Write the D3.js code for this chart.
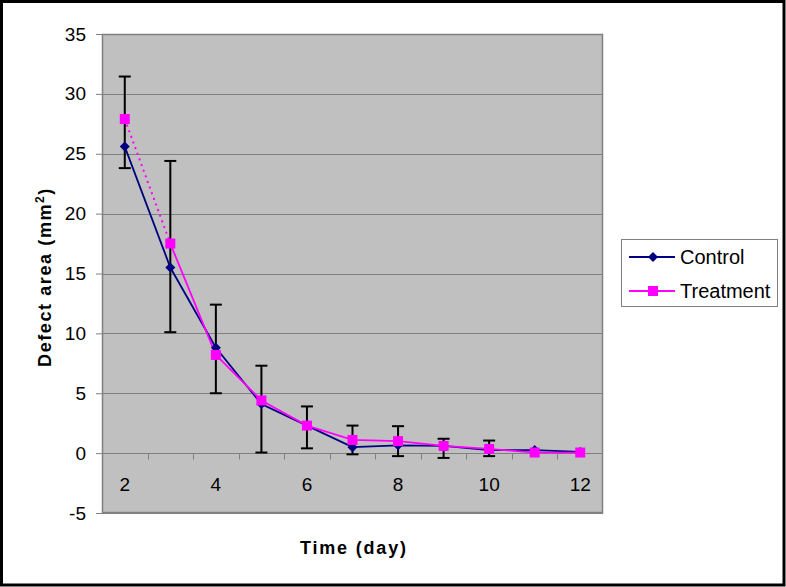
<!DOCTYPE html>
<html>
<head>
<meta charset="utf-8">
<script src="https://cdn.jsdelivr.net/npm/d3@7"></script>
<style>
  body { margin: 0; background: #fff; }
  svg text { font-family: Arial, "Liberation Sans", sans-serif; fill: #000; }
</style>
</head>
<body>
<svg id="chart" width="786" height="587"></svg>
<script>
// data
const days = [2, 3, 4, 5, 6, 7, 8, 9, 10, 11, 12];
const control = [25.6, 15.5, 8.8, 4.1, 2.3, 0.5, 0.65, 0.6, 0.25, 0.25, 0.1];
const treatment = [27.9, 17.5, 8.2, 4.4, 2.3, 1.1, 1.0, 0.6, 0.35, 0.05, 0.05];
const errTop = [31.45, 24.4, 12.4, 7.3, 3.9, 2.3, 2.25, 1.2, 1.05, null, null];
const errBottom = [23.8, 10.1, 5.0, 0.05, 0.4, -0.1, -0.25, -0.4, -0.25, null, null];
const yTicks = [-5, 0, 5, 10, 15, 20, 25, 30, 35];
const xLabels = [2, 4, 6, 8, 10, 12];

const svg = d3.select('#chart');
const plot = { left: 102, right: 603, top: 34, bottom: 513 };

const x = d3.scaleBand().domain(days).range([plot.left, plot.right]);
const y = d3.scaleLinear().domain([-5, 35]).range([plot.bottom, plot.top]);
const cx = d => x(d) + x.bandwidth() / 2;

// outer frame
svg.append('rect')
    .attr('x', 1.5).attr('y', 1.5).attr('width', 782.5).attr('height', 583.5)
    .attr('fill', '#fff').attr('stroke', '#000').attr('stroke-width', 3);

// plot area
svg.append('rect')
    .attr('x', plot.left).attr('y', plot.top)
    .attr('width', plot.right - plot.left).attr('height', plot.bottom - plot.top)
    .attr('fill', '#c0c0c0');

// gridlines
svg.append('g').selectAll('line')
    .data(yTicks)
    .enter().append('line')
    .attr('x1', plot.left).attr('x2', plot.right)
    .attr('y1', d => Math.round(y(d)) + 0.5).attr('y2', d => Math.round(y(d)) + 0.5)
    .attr('stroke', '#808080').attr('stroke-width', 1);

svg.append('rect')
    .attr('x', plot.left + 0.5).attr('y', plot.top + 0.5)
    .attr('width', plot.right - plot.left - 1).attr('height', plot.bottom - plot.top - 1)
    .attr('fill', 'none').attr('stroke', '#808080').attr('stroke-width', 1.5);

// y axis
const yAxis = d3.axisLeft(y).tickValues(yTicks).tickSize(6).tickPadding(10)
    .tickFormat(d => String(d));
const gy = svg.append('g')
    .attr('transform', `translate(${plot.left},0)`)
    .call(yAxis);
gy.select('.domain').attr('stroke', '#808080');
gy.selectAll('.tick line').attr('stroke', '#808080');
gy.selectAll('.tick text').style('font-size', '19px').attr('fill', '#000');

// category axis crossing at zero
const y0 = Math.round(y(0)) + 0.5;
svg.append('line')
    .attr('x1', plot.left).attr('x2', plot.right)
    .attr('y1', y0).attr('y2', y0)
    .attr('stroke', '#808080');
svg.append('g').selectAll('line')
    .data(days.slice(1))
    .enter().append('line')
    .attr('x1', d => Math.round(x(d)) + 0.5).attr('x2', d => Math.round(x(d)) + 0.5)
    .attr('y1', y0).attr('y2', y0 + 6)
    .attr('stroke', '#808080');
svg.append('g').selectAll('text')
    .data(xLabels)
    .enter().append('text')
    .attr('x', d => cx(d))
    .attr('y', 491)
    .attr('text-anchor', 'middle')
    .style('font-size', '19px')
    .text(d => d);

// error bars
const errData = days.map((d, i) => ({ d, top: errTop[i], bottom: errBottom[i] }))
    .filter(e => e.top !== null);
const eb = svg.append('g').attr('stroke', '#000').attr('stroke-width', 2);
eb.selectAll('.stem')
    .data(errData)
    .enter().append('line')
    .attr('x1', e => cx(e.d)).attr('x2', e => cx(e.d))
    .attr('y1', e => y(e.top)).attr('y2', e => y(e.bottom));
eb.selectAll('.capt')
    .data(errData)
    .enter().append('line')
    .attr('x1', e => cx(e.d) - 6).attr('x2', e => cx(e.d) + 6)
    .attr('y1', e => y(e.top)).attr('y2', e => y(e.top));
eb.selectAll('.capb')
    .data(errData)
    .enter().append('line')
    .attr('x1', e => cx(e.d) - 6).attr('x2', e => cx(e.d) + 6)
    .attr('y1', e => y(e.bottom)).attr('y2', e => y(e.bottom));

const line = d3.line().x(p => cx(p[0])).y(p => y(p[1]));
const ctrlPts = days.map((d, i) => [d, control[i]]);
const trtPts = days.map((d, i) => [d, treatment[i]]);

// control series
svg.append('path')
    .attr('d', line(ctrlPts))
    .attr('fill', 'none').attr('stroke', '#000080').attr('stroke-width', 1.8);

// treatment series: first segment dotted
svg.append('path')
    .attr('d', line(trtPts.slice(0, 2)))
    .attr('fill', 'none').attr('stroke', '#ff00ff').attr('stroke-width', 2)
    .attr('stroke-dasharray', '2,4');
svg.append('path')
    .attr('d', line(trtPts.slice(1)))
    .attr('fill', 'none').attr('stroke', '#ff00ff').attr('stroke-width', 1.8);

const diamond = d3.symbol().type(d3.symbolDiamond2).size(64);
svg.append('g').selectAll('path')
    .data(ctrlPts)
    .enter().append('path')
    .attr('d', diamond)
    .attr('transform', p => `translate(${cx(p[0])},${y(p[1])})`)
    .attr('fill', '#000080');

svg.append('g').selectAll('rect')
    .data(trtPts)
    .enter().append('rect')
    .attr('x', p => cx(p[0]) - 5).attr('y', p => y(p[1]) - 5)
    .attr('width', 10).attr('height', 10)
    .attr('fill', '#ff00ff');

// axis titles
svg.append('text')
    .attr('transform', 'translate(51,277) rotate(-90)')
    .attr('text-anchor', 'middle')
    .style('font-size', '18px').style('font-weight', 'bold')
    .style('letter-spacing', '1.6px')
    .html('Defect area (mm<tspan dy="-7" font-size="12">2</tspan><tspan dy="7">)</tspan>');

svg.append('text')
    .attr('x', 353).attr('y', 554)
    .attr('text-anchor', 'middle')
    .attr('textLength', 106).attr('lengthAdjust', 'spacing')
    .style('font-size', '18px').style('font-weight', 'bold')
    .text('Time (day)');

// legend
const legend = svg.append('g');
legend.append('rect')
    .attr('x', 621.5).attr('y', 239.5).attr('width', 156).attr('height', 67)
    .attr('fill', '#fff').attr('stroke', '#808080');
const legendItems = [
    { name: 'Control', color: '#000080', ly: 257 },
    { name: 'Treatment', color: '#ff00ff', ly: 291 }
];
legend.selectAll('line')
    .data(legendItems)
    .enter().append('line')
    .attr('x1', 629).attr('x2', 675)
    .attr('y1', d => d.ly).attr('y2', d => d.ly)
    .attr('stroke', d => d.color).attr('stroke-width', 1.8);
legend.append('path')
    .attr('d', diamond)
    .attr('transform', 'translate(653,257)')
    .attr('fill', '#000080');
legend.append('rect')
    .attr('x', 648).attr('y', 286).attr('width', 10).attr('height', 10)
    .attr('fill', '#ff00ff');
legend.selectAll('text')
    .data(legendItems)
    .enter().append('text')
    .attr('x', 680).attr('y', d => d.ly + 7)
    .style('font-size', '20px')
    .text(d => d.name);
</script>
</body>
</html>
